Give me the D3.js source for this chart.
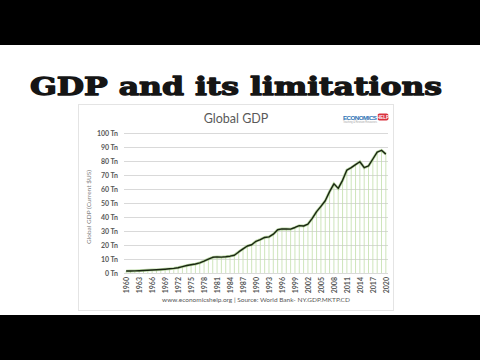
<!DOCTYPE html>
<html>
<head>
<meta charset="utf-8">
<script src="https://cdn.jsdelivr.net/npm/d3@7/dist/d3.min.js"></script>
<style>
html,body{margin:0;padding:0;background:#fff;}
svg{display:block;}
</style>
</head>
<body>
<svg id="c" width="480" height="360"></svg>
<script>
const years = d3.range(1960, 2021);
const gdp = [1.39,1.44,1.54,1.66,1.82,1.99,2.16,2.29,2.48,2.73,
  2.99,3.28,3.77,4.60,5.33,5.93,6.42,7.27,8.54,9.93,
  11.23,11.55,11.36,11.61,12.01,12.70,15.04,17.25,19.28,20.19,
  22.63,23.87,25.38,25.82,27.74,30.87,31.55,31.42,31.33,32.52,
  33.83,33.58,34.86,39.07,43.80,47.63,51.60,58.12,63.71,60.44,
  66.21,73.55,75.26,77.38,79.47,75.22,76.46,81.43,86.41,87.65,84.91];
const yTicks = [0,10,20,30,40,50,60,70,80,90,100];
const xTickYears = d3.range(1960, 2021, 3);

const svg = d3.select("#c");
// letterbox bars
svg.append("rect").attr("x",0).attr("y",0).attr("width",480).attr("height",45).attr("fill","#000");
svg.append("rect").attr("x",0).attr("y",315).attr("width",480).attr("height",45).attr("fill","#000");

// main title
svg.append("text").attr("x",236).attr("y",94.5).attr("text-anchor","middle")
  .attr("font-family","DejaVu Serif").attr("font-weight","bold").attr("font-size",25)
  .attr("textLength",412).attr("lengthAdjust","spacingAndGlyphs")
  .attr("fill","#151515").attr("stroke","#151515").attr("stroke-width",1.3)
  .attr("stroke-linejoin","round").text("GDP and its limitations");

// chart box
svg.append("rect").attr("x",78.5).attr("y",104.5).attr("width",315).attr("height",206)
  .attr("fill","#fff").attr("stroke","#e4e4e4").attr("stroke-width",1);

svg.append("text").attr("x",236).attr("y",123).attr("text-anchor","middle")
  .attr("font-family","Lato, 'Open Sans', sans-serif").attr("font-size",12.5)
  .attr("fill","#595959").text("Global GDP");

// logo
svg.append("text").attr("x",343).attr("y",119.5).attr("font-family","Liberation Sans, sans-serif")
  .attr("font-weight","bold").attr("font-size",6.2).attr("fill","#2e74b5").attr("textLength",34).text("ECONOMICS");
svg.append("rect").attr("x",377.5).attr("y",113.5).attr("width",11).attr("height",7).attr("rx",2).attr("fill","#d9333f");
svg.append("text").attr("x",383).attr("y",119).attr("text-anchor","middle").attr("font-family","Liberation Sans, sans-serif")
  .attr("font-weight","bold").attr("font-size",4.5).attr("fill","#fff").text("HELP");
svg.append("text").attr("x",343).attr("y",123).attr("font-family","Liberation Sans, sans-serif")
  .attr("font-size",2.6).attr("fill","#aaa").attr("textLength",34).text("Teaching & Revision Resources");

const x = d3.scalePoint().domain(years).range([124,388]).padding(0.5);
const y = d3.scaleLinear().domain([0,100]).range([273,133]);

// gridlines
svg.append("g").selectAll("line").data(yTicks).join("line")
  .attr("x1",124).attr("x2",388).attr("y1",d=>y(d)+0.5).attr("y2",d=>y(d)+0.5)
  .attr("stroke","#d9d9d9").attr("stroke-width",1);

// y axis labels
const yAxis = d3.axisLeft(y).tickValues(yTicks).tickSize(0).tickPadding(6).tickFormat(d=>d+" Tn");
const ga = svg.append("g").attr("transform","translate(124,0)").call(yAxis);
ga.select(".domain").remove();
ga.selectAll("text").attr("font-family","Lato, 'Open Sans', sans-serif").attr("font-size",7)
  .attr("font-weight","bold").attr("fill","#595959");

// y axis title
svg.append("text").attr("transform","translate(91,207) rotate(-90)").attr("text-anchor","middle")
  .attr("font-family","Lato, 'Open Sans', sans-serif").attr("font-size",6.5).attr("fill","#7f7f7f")
  .text("Global GDP (Current $US)");

// drop lines
svg.append("g").selectAll("line").data(years).join("line")
  .attr("x1",d=>x(d)).attr("x2",d=>x(d))
  .attr("y1",(d,i)=>y(gdp[i])).attr("y2",y(0))
  .attr("stroke","#c2deaa").attr("stroke-width",0.8);

// line with glow
const line = d3.line().x((d,i)=>x(years[i])).y(d=>y(d));
svg.append("path").datum(gdp).attr("d",line).attr("fill","none")
  .attr("stroke","#8fc06a").attr("stroke-width",2.8).attr("stroke-opacity",0.6);
svg.append("path").datum(gdp).attr("d",line).attr("fill","none")
  .attr("stroke","#1a2612").attr("stroke-width",1.4).attr("stroke-linejoin","round");

// x axis line
svg.append("line").attr("x1",124).attr("x2",388).attr("y1",273.5).attr("y2",273.5).attr("stroke","#d9d9d9");

// x labels
const xAxis = d3.axisBottom(x).tickValues(xTickYears).tickSize(0).tickPadding(0);
const gx = svg.append("g").attr("transform","translate(0,273)").call(xAxis);
gx.select(".domain").remove();
gx.selectAll("text").attr("font-family","Lato, 'Open Sans', sans-serif").attr("font-size",7)
  .attr("font-weight","bold").attr("fill","#595959")
  .attr("text-anchor","end").attr("dy","0.35em").attr("y",0)
  .attr("transform","translate(0,4) rotate(-90)");

// footer
svg.append("text").attr("x",256).attr("y",302).attr("text-anchor","middle")
  .attr("font-family","Lato, 'Open Sans', sans-serif").attr("font-size",6.5).attr("fill","#595959")
  .text("www.economicshelp.org | Source: World Bank- NY.GDP.MKTP.CD");
</script>
</body>
</html>
